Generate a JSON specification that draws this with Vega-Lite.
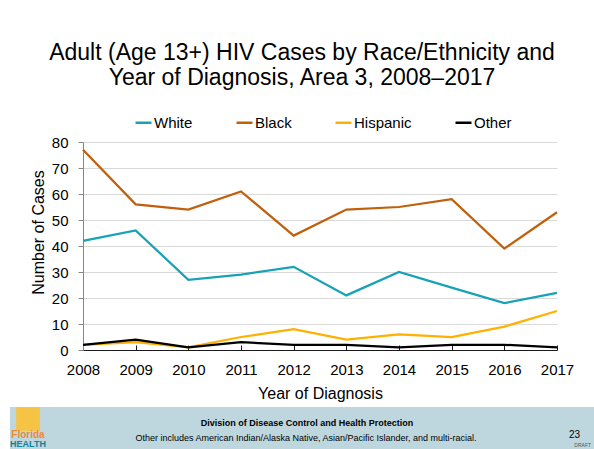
{
  "$schema": "https://vega.github.io/schema/vega-lite/v6.json",
  "background": "white",
  "padding": {"left": 10, "top": 42, "right": 0, "bottom": 0},
  "title": {
    "text": ["Adult (Age 13+) HIV Cases by Race/Ethnicity and", "Year of Diagnosis, Area 3, 2008–2017"],
    "anchor": "middle",
    "frame": "bounds",
    "fontSize": 23,
    "lineHeight": 25,
    "font": "Liberation Sans",
    "fontWeight": "normal",
    "color": "#000000",
    "offset": 23
  },
  "bounds": "flush",
  "spacing": 265,
  "vconcat": [
    {
      "bounds": "flush",
      "spacing": 72,
      "hconcat": [
        {"width": 1, "height": 208, "data": {"values": []}, "mark": "point"},
        {
          "width": 474,
          "height": 208,
          "data": {
            "values": [
              {"year": 2008, "race": "White", "cases": 42},
              {"year": 2009, "race": "White", "cases": 46},
              {"year": 2010, "race": "White", "cases": 27},
              {"year": 2011, "race": "White", "cases": 29},
              {"year": 2012, "race": "White", "cases": 32},
              {"year": 2013, "race": "White", "cases": 21},
              {"year": 2014, "race": "White", "cases": 30},
              {"year": 2015, "race": "White", "cases": 24},
              {"year": 2016, "race": "White", "cases": 18},
              {"year": 2017, "race": "White", "cases": 22},
              {"year": 2008, "race": "Black", "cases": 77},
              {"year": 2009, "race": "Black", "cases": 56},
              {"year": 2010, "race": "Black", "cases": 54},
              {"year": 2011, "race": "Black", "cases": 61},
              {"year": 2012, "race": "Black", "cases": 44},
              {"year": 2013, "race": "Black", "cases": 54},
              {"year": 2014, "race": "Black", "cases": 55},
              {"year": 2015, "race": "Black", "cases": 58},
              {"year": 2016, "race": "Black", "cases": 39},
              {"year": 2017, "race": "Black", "cases": 53},
              {"year": 2008, "race": "Hispanic", "cases": 2},
              {"year": 2009, "race": "Hispanic", "cases": 3},
              {"year": 2010, "race": "Hispanic", "cases": 1},
              {"year": 2011, "race": "Hispanic", "cases": 5},
              {"year": 2012, "race": "Hispanic", "cases": 8},
              {"year": 2013, "race": "Hispanic", "cases": 4},
              {"year": 2014, "race": "Hispanic", "cases": 6},
              {"year": 2015, "race": "Hispanic", "cases": 5},
              {"year": 2016, "race": "Hispanic", "cases": 9},
              {"year": 2017, "race": "Hispanic", "cases": 15},
              {"year": 2008, "race": "Other", "cases": 2},
              {"year": 2009, "race": "Other", "cases": 4},
              {"year": 2010, "race": "Other", "cases": 1},
              {"year": 2011, "race": "Other", "cases": 3},
              {"year": 2012, "race": "Other", "cases": 2},
              {"year": 2013, "race": "Other", "cases": 2},
              {"year": 2014, "race": "Other", "cases": 1},
              {"year": 2015, "race": "Other", "cases": 2},
              {"year": 2016, "race": "Other", "cases": 2},
              {"year": 2017, "race": "Other", "cases": 1}
            ]
          },
          "mark": {"type": "line", "strokeWidth": 2.25, "clip": false},
          "encoding": {
            "x": {
              "field": "year",
              "type": "quantitative",
              "scale": {"domain": [2008, 2017], "nice": false, "zero": false},
              "axis": {
                "title": "Year of Diagnosis",
                "values": [2008, 2009, 2010, 2011, 2012, 2013, 2014, 2015, 2016, 2017],
                "format": "d",
                "grid": false,
                "labelFlush": false,
                "labelOverlap": false,
                "domainColor": "#1a1a1a",
                "domainWidth": 1.2,
                "tickColor": "#1a1a1a",
                "tickSize": -5,
                "labelPadding": 17,
                "labelFontSize": 15,
                "titleFontSize": 16,
                "titlePadding": 8,
                "labelColor": "#000000",
                "titleColor": "#000000",
                "titleFontWeight": "normal"
              }
            },
            "y": {
              "field": "cases",
              "type": "quantitative",
              "scale": {"domain": [0, 80], "nice": false},
              "axis": {
                "title": "Number of Cases",
                "titleY": 90,
                "values": [0, 10, 20, 30, 40, 50, 60, 70, 80],
                "grid": true,
                "gridColor": "#d9d9d9",
                "domainColor": "#878787",
                "tickColor": "#878787",
                "tickSize": 5,
                "labelPadding": 10,
                "labelFontSize": 15,
                "titleFontSize": 16,
                "titlePadding": 5,
                "labelColor": "#000000",
                "titleColor": "#000000",
                "titleFontWeight": "normal"
              }
            },
            "color": {
              "field": "race",
              "type": "nominal",
              "scale": {
                "domain": ["White", "Black", "Hispanic", "Other"],
                "range": ["#17A2B5", "#C0600C", "#FFB000", "#000000"]
              },
              "legend": {
                "orient": "none",
                "legendX": 124,
                "legendY": -29,
                "direction": "horizontal",
                "title": null,
                "symbolType": "stroke",
                "symbolSize": 256,
                "symbolStrokeWidth": 2.5,
                "labelFontSize": 15,
                "labelColor": "#000000",
                "labelOffset": 1,
                "columnPadding": 38,
                "padding": 0
              }
            }
          }
        }
      ]
    },
    {
      "width": 584,
      "height": 42,
      "view": {"fill": "#bed7de", "stroke": null},
      "layer": [
        {
          "data": {"values": [{"t": "Division of Disease Control and Health Protection"}]},
          "mark": {"type": "text", "fontSize": 9, "fontWeight": "bold", "dy": -5, "dx": 5, "baseline": "middle", "color": "#000000"},
          "encoding": {"text": {"field": "t"}}
        },
        {
          "data": {"values": [{"t": "Other includes American Indian/Alaska Native, Asian/Pacific Islander, and multi-racial."}]},
          "mark": {"type": "text", "fontSize": 9, "dy": 10, "dx": 4, "baseline": "middle", "color": "#000000"},
          "encoding": {"text": {"field": "t"}}
        },
        {
          "data": {"values": [{"t": "23"}]},
          "mark": {"type": "text", "fontSize": 10, "dy": 7, "dx": -14, "align": "right", "baseline": "middle", "color": "#000000"},
          "encoding": {"text": {"field": "t"}, "x": {"value": "width"}}
        },
        {
          "data": {"values": [{"t": "DRAFT"}]},
          "mark": {"type": "text", "fontSize": 5, "dx": -3, "dy": -1, "align": "right", "baseline": "bottom", "color": "#555555"},
          "encoding": {"text": {"field": "t"}, "x": {"value": "width"}, "y": {"value": "height"}}
        },
        {
          "data": {"values": [{"t": "logo"}]},
          "mark": {"type": "square", "size": 560, "color": "#F6C445", "opacity": 1},
          "encoding": {"x": {"value": 18}, "y": {"value": 12}}
        },
        {
          "data": {"values": [{"t": "Florida"}]},
          "mark": {"type": "text", "fontSize": 10, "fontWeight": "bold", "baseline": "middle", "color": "#EE8A2B"},
          "encoding": {"text": {"field": "t"}, "x": {"value": 18}, "y": {"value": 28}}
        },
        {
          "data": {"values": [{"t": "HEALTH"}]},
          "mark": {"type": "text", "fontSize": 9, "fontWeight": "bold", "baseline": "middle", "color": "#137F9A"},
          "encoding": {"text": {"field": "t"}, "x": {"value": 18}, "y": {"value": 37}}
        }
      ]
    }
  ],
  "config": {
    "font": "Liberation Sans",
    "view": {"stroke": null},
    "axis": {"labelFont": "Liberation Sans", "titleFont": "Liberation Sans"},
    "legend": {"labelFont": "Liberation Sans"},
    "text": {"font": "Liberation Sans"}
  }
}
